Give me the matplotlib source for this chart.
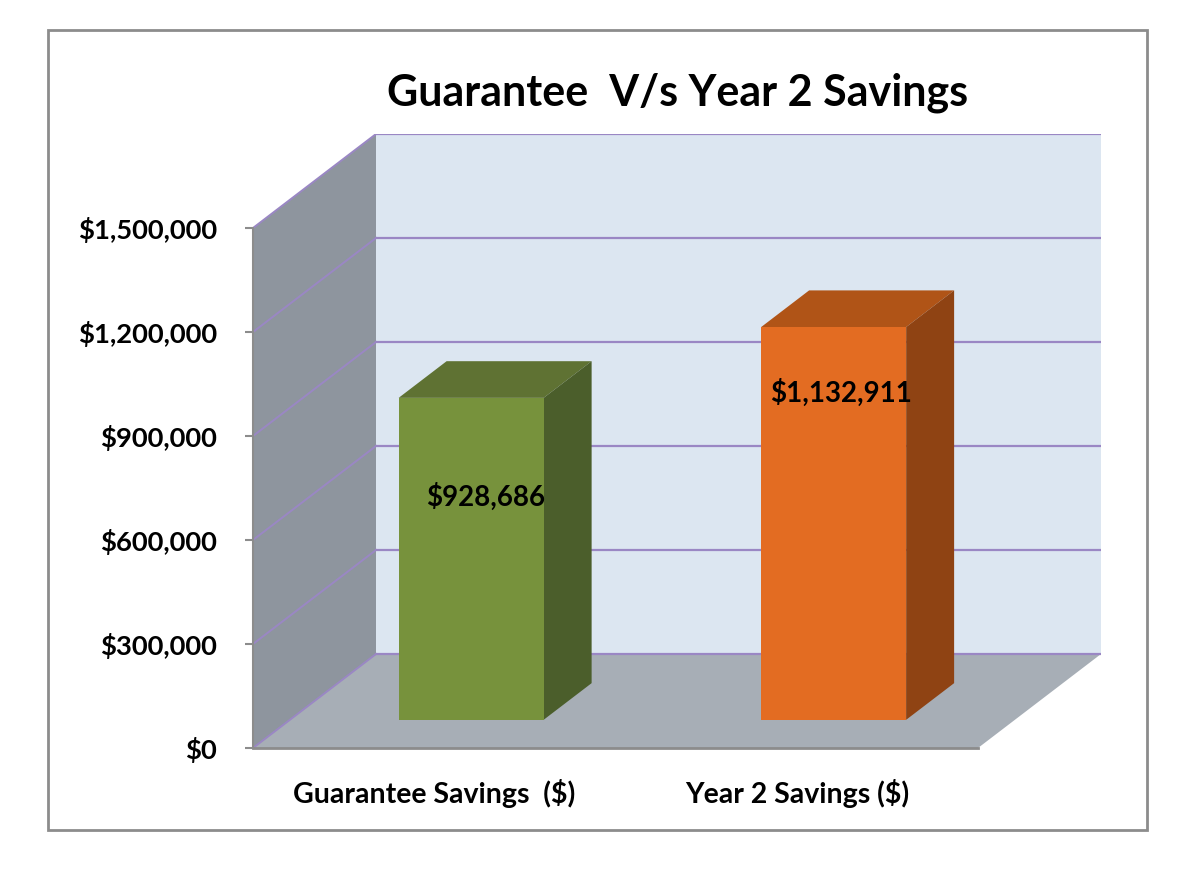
import numpy as np
import matplotlib
matplotlib.use('Agg')
import matplotlib.pyplot as plt
from matplotlib.patches import Rectangle
from matplotlib.ticker import FuncFormatter

# data
categories = ['Guarantee Savings  ($)', 'Year 2 Savings ($)']
savings = [928686, 1132911]
value_labels = ['$928,686', '$1,132,911']
yticks = [0, 300000, 600000, 900000, 1200000, 1500000]

# colours: front, top, side
bar_colors = [('#77923C', '#5F7233', '#4B5E2B'),
              ('#E36C22', '#B05417', '#8F4313')]

plt.rcParams['font.family'] = ['Lato', 'DejaVu Sans']
plt.rcParams['font.weight'] = 'bold'

W, H = 1196, 880
fig = plt.figure(figsize=(W / 100, H / 100), dpi=100)

# fake 3d geometry (pixels)
ymax = 1500000
px_per_cat = 362.5
px_per_val = 520 / ymax
ddx = 123 / px_per_cat        # depth shift in x (category units)
ddy = 94 / px_per_val         # depth shift in y (value units)
bar_w = 0.4
bar_d0 = 0.3                  # bar starts at this fraction of the depth
bar_db = 0.39                 # bar depth fraction
ncat = len(categories)

left_px, bottom_px = 253, 880 - 748
ax = fig.add_axes([left_px / W, bottom_px / H,
                   (ncat + ddx) * px_per_cat / W, (520 + 94) / H])
ax.set_xlim(0, ncat + ddx)
ax.set_ylim(0, ymax + ddy)
ax.set_facecolor('none')

# walls
ax.fill([0, 0, ddx, ddx], [0, ymax, ymax + ddy, ddy], color='#8E959E', lw=0, zorder=1)
ax.fill([ddx, ncat + ddx, ncat + ddx, ddx], [ddy, ddy, ymax + ddy, ymax + ddy],
        color='#DCE6F1', lw=0, zorder=1)
ax.fill([0, ncat, ncat + ddx, ddx], [0, 0, ddy, ddy], color='#A7AEB6', lw=0, zorder=1)

# gridlines
for t in yticks:
    ax.plot([ddx, ncat + ddx], [t + ddy, t + ddy], color='#9A87C4', lw=1.6, zorder=2)
    ax.plot([0, ddx], [t, t + ddy], color='#9A87C4', lw=1.4, zorder=2)

# bars
for i, v in enumerate(savings):
    front, top, side = bar_colors[i]
    x0 = i + (1 - bar_w) / 2 + bar_d0 * ddx
    y0 = bar_d0 * ddy
    sx, sy = bar_db * ddx, bar_db * ddy
    ax.bar(x0, v, width=bar_w, bottom=y0, align='edge', color=front, lw=0, zorder=4)
    ax.fill([x0, x0 + bar_w, x0 + bar_w + sx, x0 + sx],
            [y0 + v, y0 + v, y0 + v + sy, y0 + v + sy], color=top, lw=0, zorder=3)
    ax.fill([x0 + bar_w, x0 + bar_w, x0 + bar_w + sx, x0 + bar_w + sx],
            [y0, y0 + v, y0 + v + sy, y0 + sy], color=side, lw=0, zorder=3)

# value labels
label_frac = [0.78, 0.904]
label_dx = [0.04, 0.02]
for i, v in enumerate(savings):
    xc = i + 0.5 + bar_d0 * ddx + label_dx[i]
    ax.text(xc, v * label_frac[i], value_labels[i], ha='center', va='center',
            fontsize=20, fontweight='bold', color='black', zorder=5)

# axes
for s in ['top', 'right']:
    ax.spines[s].set_visible(False)
ax.spines['left'].set_bounds(0, ymax)
ax.spines['bottom'].set_bounds(0, ncat)
ax.spines['left'].set_color('#8C8C8C')
ax.spines['bottom'].set_color('#8C8C8C')
ax.spines['left'].set_linewidth(1.5)
ax.spines['bottom'].set_linewidth(2)
ax.set_yticks(yticks)
ax.yaxis.set_major_formatter(FuncFormatter(lambda y, p: '${:,.0f}'.format(y)))
ax.tick_params(axis='y', length=6, width=1.5, color='#8C8C8C', pad=20, labelsize=19.7)
ax.set_xticks(np.arange(ncat) + 0.5)
ax.set_xticklabels(categories)
ax.tick_params(axis='x', length=0, pad=22, labelsize=20.5)

fig.text(678 / W, 1 - 93 / H, 'Guarantee  V/s Year 2 Savings', ha='center', va='center',
         fontsize=31, fontweight='bold')

# outer border
fig.patches.append(Rectangle((48 / W, 1 - 830 / H), 1099 / W, 800 / H,
                             transform=fig.transFigure, fill=False,
                             edgecolor='#8C8C8C', lw=2))

fig.savefig('out.png', dpi=100)
